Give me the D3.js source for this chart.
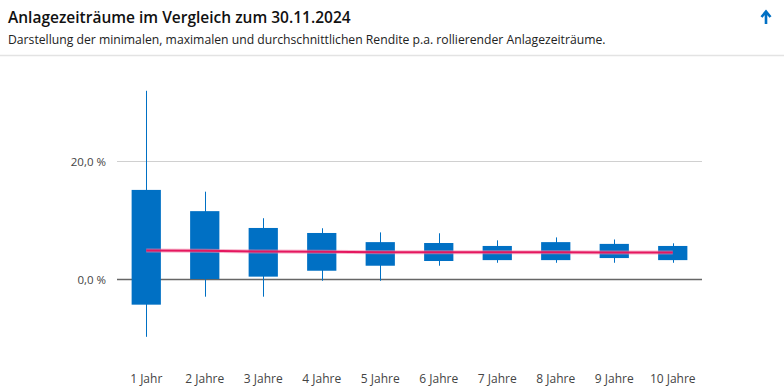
<!DOCTYPE html>
<html><head><meta charset="utf-8">
<script src="https://cdn.jsdelivr.net/npm/d3@7"></script>
<style>
body{margin:0;background:#fff;}
svg{display:block;}
</style></head><body>
<svg id="c" width="784" height="391"></svg>
<script>
const categories = ["1 Jahr","2 Jahre","3 Jahre","4 Jahre","5 Jahre","6 Jahre","7 Jahre","8 Jahre","9 Jahre","10 Jahre"];
const maxValues  = [31.9, 14.8, 10.3, 8.6, 7.9, 7.75, 6.55, 7.05, 6.7, 6.05];
const boxTop     = [15.1, 11.5, 8.65, 7.8, 6.25, 6.1, 5.6, 6.25, 5.95, 5.6];
const boxBottom  = [-4.35, 0.0, 0.4, 1.4, 2.25, 3.05, 3.2, 3.2, 3.55, 3.2];
const minValues  = [-9.8, -3.0, -3.0, -0.3, -0.3, 2.25, 2.75, 2.75, 2.75, 2.75];
const avgValues  = [4.85, 4.8, 4.65, 4.6, 4.55, 4.55, 4.55, 4.55, 4.5, 4.5];
const yTicks = [0, 20];
const title = "Anlagezeiträume im Vergleich zum 30.11.2024";
const subtitle = "Darstellung der minimalen, maximalen und durchschnittlichen Rendite p.a. rollierender Anlagezeiträume.";

const data = categories.map((c,i)=>({c, max:maxValues[i], top:boxTop[i], bot:boxBottom[i], min:minValues[i], avg:avgValues[i]}));
const svg = d3.select("#c");
const font = "'Segoe UI','Open Sans','Noto Sans',sans-serif";
const blue = "#0070c4";

// header
svg.append("text").attr("x",8).attr("y",23).attr("font-family",font).attr("font-weight",600)
  .attr("font-size",15.5).attr("fill","#111").text(title);
svg.append("text").attr("x",8).attr("y",44).attr("font-family",font)
  .attr("font-size",12.2).attr("fill","#222").text(subtitle);
svg.append("line").attr("x1",0).attr("x2",784).attr("y1",55.5).attr("y2",55.5).attr("stroke","#e3e3e3").attr("stroke-width",1.5);
// arrow icon
svg.append("path").attr("d","M766,24 L766,13 M761.5,17 L766,11.5 L770.5,17")
  .attr("stroke",blue).attr("stroke-width",2.6).attr("fill","none").attr("stroke-linejoin","miter");

const x = d3.scaleBand().domain(categories).range([117,702]).paddingInner(0.5).paddingOuter(0.25);
const y = d3.scaleLinear().domain([0,20]).range([279,161]);

// gridlines / axis
const g = svg.append("g");
g.selectAll("line.grid").data(yTicks).join("line")
  .attr("x1",117).attr("x2",702).attr("y1",d=>Math.round(y(d))+0.5).attr("y2",d=>Math.round(y(d))+0.5)
  .attr("stroke",d=>d===0?"#666":"#d0d0d0").attr("stroke-width",d=>d===0?1.5:1);
g.selectAll("text.ylab").data(yTicks).join("text")
  .attr("x",106).attr("y",d=>y(d)+5).attr("text-anchor","end")
  .attr("font-family",font).attr("font-size",11.5).attr("fill","#444")
  .text(d=>d3.format(".1f")(d).replace(".",",")+" %");

// whiskers
const cx = d=>x(d.c)+x.bandwidth()/2;
svg.selectAll("line.wh").data(data).join("line")
  .attr("x1",d=>Math.round(cx(d))+0.5).attr("x2",d=>Math.round(cx(d))+0.5)
  .attr("y1",d=>y(d.max)).attr("y2",d=>y(d.min)).attr("stroke",blue).attr("stroke-width",1);
// boxes
svg.selectAll("rect.box").data(data).join("rect")
  .attr("x",d=>x(d.c)).attr("width",x.bandwidth())
  .attr("y",d=>y(d.top)).attr("height",d=>y(d.bot)-y(d.top)).attr("fill",blue);

// avg line
const line = d3.line().x(d=>cx(d)).y(d=>y(d.avg));
svg.append("path").datum(data).attr("d",line).attr("fill","none")
  .attr("stroke","#f08aae").attr("stroke-opacity",0.6).attr("stroke-width",4);
svg.append("path").datum(data).attr("d",line).attr("fill","none")
  .attr("stroke","#e5175f").attr("stroke-width",2);

// x labels
svg.selectAll("text.xl").data(data).join("text")
  .attr("x",d=>cx(d)).attr("y",383).attr("text-anchor","middle")
  .attr("font-family",font).attr("font-size",12).attr("fill","#444").text(d=>d.c);
</script>
</body></html>
